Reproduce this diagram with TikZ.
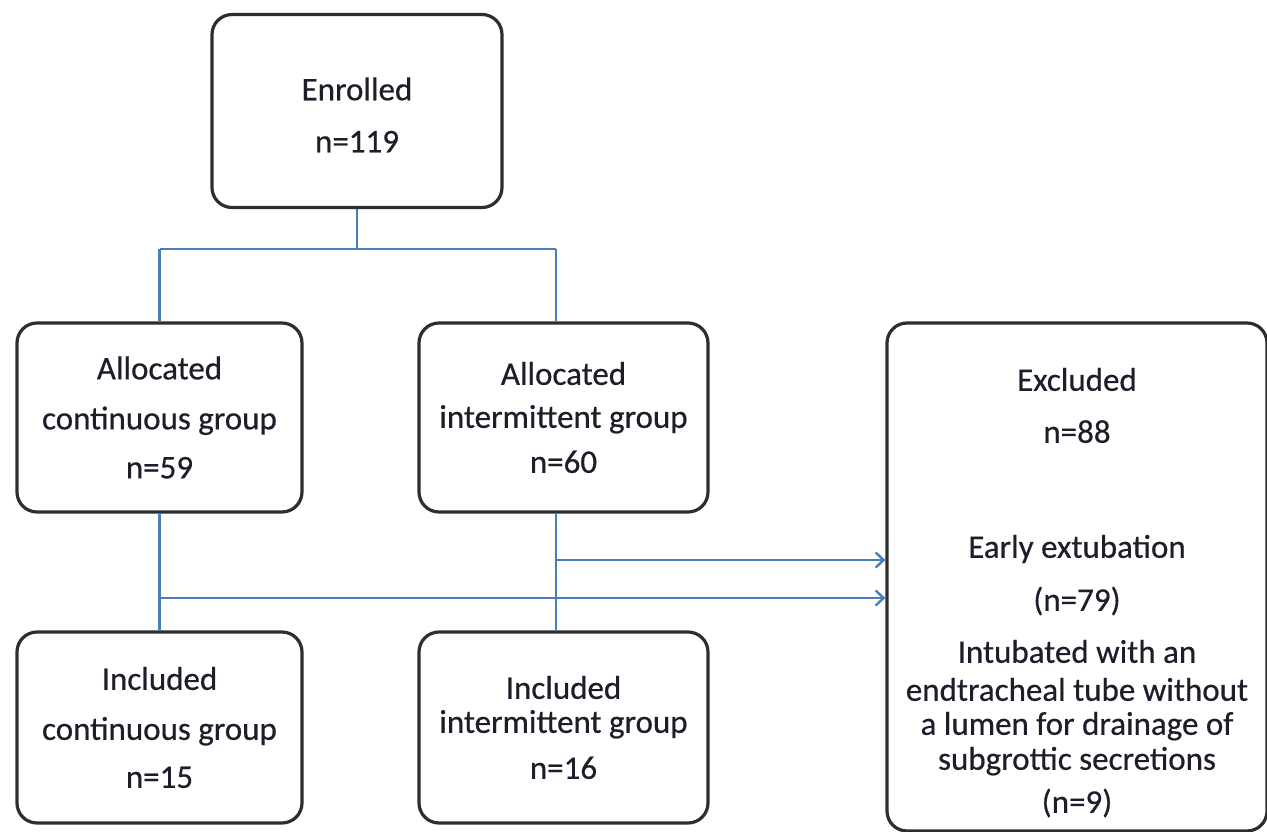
\documentclass[tikz,border=0pt]{standalone}
\usepackage{fontspec}
\setmainfont{Carlito}[FakeBold=0.5]
\usetikzlibrary{arrows.meta}
\definecolor{boxline}{HTML}{2E2E2E}
\definecolor{connblue}{HTML}{4A7EBB}
\definecolor{txt}{HTML}{1E1E2A}
\begin{document}
\begin{tikzpicture}[x=1pt,y=-1pt,
  box/.style={draw=boxline, line width=3.2pt, rounded corners=20pt, align=center,
    inner sep=0pt, font=\fontsize{33}{40}\selectfont, text=txt},
  conn/.style={draw=connblue, line width=2.4pt},
  arr/.style={conn, -{Straight Barb[length=8pt,width=15pt,line width=2.4pt]}}]
\useasboundingbox (0,0) rectangle (1267,832);

\node[box, minimum width=290pt, minimum height=193pt] (enr) at (357,111)
  {\raisebox{-13.5pt}[0pt][0pt]{\begin{tabular}{@{}c@{}}Enrolled\\[12pt]n=119\end{tabular}}};
\node[box, minimum width=285pt, minimum height=189pt] (ac) at (159.5,417.5)
  {Allocated\\[10pt]continuous group\\[9pt]n=59};
\node[box, minimum width=289pt, minimum height=189pt] (ai) at (563.5,417.5)
  {Allocated\\[3pt]intermittent group\\[5pt]n=60};
\node[box, minimum width=285pt, minimum height=191pt] (ic) at (159.5,727.5)
  {Included\\[10pt]continuous group\\[8pt]n=15};
\node[box, minimum width=289pt, minimum height=191pt] (ii) at (563.5,727.5)
  {Included\\[-6pt]intermittent group\\[6pt]n=16};
\node[box, minimum width=380pt, minimum height=508pt] (exc) at (1077,577)
  {\raisebox{-23pt}[0pt][0pt]{\begin{tabular}{@{}c@{}}
   Excluded\\[12pt]
   n=88\\[75pt]
   Early extubation\\[13pt]
   (n=79)\\[12pt]
   Intubated with an\\[-2pt]
   endtracheal tube without\\[-6pt]
   a lumen for drainage of\\[-5pt]
   subgrottic secretions\\[3pt]
   (n=9)
   \end{tabular}}};

\coordinate (aiTop) at ([xshift=-7.5pt]ai.north);
\coordinate (aiBot) at ([xshift=-7.5pt]ai.south);
\draw[conn] (enr.south) -- ++(0,40) coordinate (split);
\draw[conn] (split -| ac.north) -- (split -| aiTop);
\draw[conn] (split -| ac.north) -- (ac.north);
\draw[conn] (split -| aiTop) -- (aiTop);
\draw[conn] (ac.south) -- (ic.north);
\draw[conn] (aiBot) -- (aiBot |- ii.north);
\coordinate (t1) at (556,560);
\coordinate (t2) at (159.5,598);
\draw[arr] (t1) -- (t1 -| exc.west);
\draw[arr] (t2) -- (t2 -| exc.west);
\end{tikzpicture}
\end{document}
